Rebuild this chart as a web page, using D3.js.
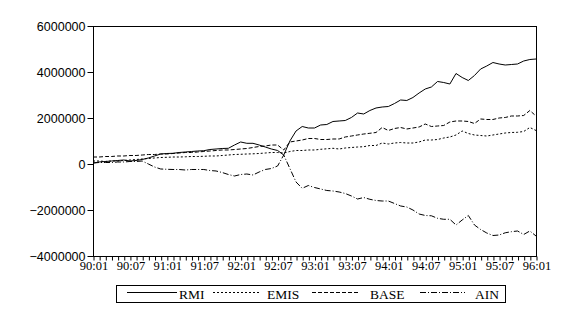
<!DOCTYPE html>
<html>
<head>
<meta charset="utf-8">
<script src="https://cdn.jsdelivr.net/npm/d3@7"></script>
<style>
  body { margin: 0; background: #fff; }
  svg { display: block; }
</style>
</head>
<body>
<div id="chart"></div>
<script>
// Monthly series 1990:01 - 1996:01 (73 months)
var rmi = [40, 87, 109, 130, 152, 174, 130, 152, 196, 261, 348, 435,
  457, 465, 500, 522, 543, 565, 578, 630, 652, 674, 683, 826,
  957, 900, 900, 826, 739, 652, 587, 391, 1000, 1435, 1630, 1565,
  1565, 1696, 1717, 1848, 1870, 1891, 2022, 2217, 2174, 2326, 2435, 2478,
  2500, 2630, 2783, 2761, 2891, 3087, 3261, 3348, 3587, 3543, 3478, 3935,
  3761, 3630, 3848, 4130, 4261, 4413, 4348, 4304, 4326, 4348, 4478, 4543,
  4565];
var emis = [130, 130, 109, 130, 130, 152, 174, 196, 217, 239, 261, 283,
  291, 304, 304, 313, 326, 326, 335, 348, 348, 370, 391, 413,
  422, 435, 443, 457, 478, 500, 500, 478, 543, 587, 587, 609,
  609, 639, 661, 683, 652, 696, 717, 739, 752, 804, 804, 913,
  870, 913, 935, 913, 913, 957, 1043, 1043, 1065, 1130, 1174, 1261,
  1435, 1326, 1261, 1239, 1217, 1261, 1304, 1348, 1370, 1378, 1413, 1587,
  1457];
var base = [304, 304, 326, 326, 348, 348, 370, 370, 391, 413, 413, 435,
  435, 457, 478, 500, 500, 522, 543, 565, 587, 609, 609, 630,
  652, 674, 717, 761, 783, 826, 826, 609, 957, 1000, 1043, 1109,
  1109, 1065, 1065, 1087, 1087, 1174, 1217, 1261, 1304, 1335, 1370, 1587,
  1457, 1543, 1587, 1522, 1565, 1609, 1739, 1630, 1652, 1674, 1826, 1870,
  1870, 1848, 1761, 1957, 1935, 1935, 2000, 2022, 2087, 2087, 2109, 2326,
  2087];
var ain = [43, 65, 65, 65, 87, 87, 109, 109, 130, 0, -130, -217,
  -230, -239, -239, -261, -239, -239, -239, -283, -304, -370, -457, -522,
  -457, -435, -478, -348, -239, -196, -87, 391, -196, -783, -1057, -935,
  -1022, -1087, -1152, -1174, -1217, -1283, -1391, -1522, -1457, -1535, -1587, -1609,
  -1609, -1717, -1826, -1870, -2000, -2174, -2239, -2252, -2361, -2404, -2404, -2652,
  -2435, -2239, -2652, -2848, -3000, -3109, -3087, -2991, -2943, -2913, -3065, -2913,
  -3130];

var xTickLabels = ["90:01", "90:07", "91:01", "91:07", "92:01", "92:07", "93:01",
  "93:07", "94:01", "94:07", "95:01", "95:07", "96:01"];
var yTicks = [-4000000, -2000000, 0, 2000000, 4000000, 6000000];

var seriesNames = ["RMI", "EMIS", "BASE", "AIN"];
var seriesData = [rmi, emis, base, ain];
var dashes = ["none", "2,2", "4,2", "6,2,1,2"];

var svgWidth = 580;
var svgHeight = 325;
var margin = {top: 26, right: 44, bottom: 69, left: 93};
var chartWidth = svgWidth - margin.left - margin.right;
var chartHeight = svgHeight - margin.top - margin.bottom;

var svg = d3.select("#chart").append("svg")
    .attr("width", svgWidth)
    .attr("height", svgHeight);

var chartGroup = svg.append("g")
    .attr("transform", `translate(${margin.left}, ${margin.top})`);

var xScale = d3.scaleLinear().domain([0, rmi.length - 1]).range([0, chartWidth]);
var yScale = d3.scaleLinear().domain([-4000000, 6000000]).range([chartHeight, 0]);

// frame
chartGroup.append("rect")
    .attr("x", 0.5).attr("y", 0.5)
    .attr("width", chartWidth).attr("height", chartHeight)
    .attr("fill", "none")
    .attr("stroke", "black");

// y axis
var yAxis = d3.axisLeft(yScale)
    .tickValues(yTicks)
    .tickSize(6)
    .tickPadding(2)
    .tickFormat(d3.format("d"));

chartGroup.append("g")
    .attr("transform", "translate(0.5,0)")
    .call(yAxis)
    .call(g => g.select(".domain").remove())
    .call(g => g.selectAll("text")
        .attr("font-family", "'Liberation Sans', Arial, sans-serif")
        .attr("font-size", "12.5px")
        .attr("fill", "black"));

// x axis: monthly minor ticks, labels every six months
var xAxis = d3.axisBottom(xScale)
    .tickValues(d3.range(0, rmi.length))
    .tickSize(4)
    .tickPadding(1)
    .tickFormat(d => d % 6 === 0 ? xTickLabels[d / 6] : "");

chartGroup.append("g")
    .attr("transform", `translate(0.5, ${chartHeight + 0.5})`)
    .call(xAxis)
    .call(g => g.select(".domain").remove())
    .call(g => g.selectAll("text")
        .attr("font-family", "'Liberation Serif', 'Times New Roman', serif")
        .attr("font-size", "12.5px")
        .attr("fill", "black"));

// series lines (values in thousands)
var line = d3.line()
    .x((d, i) => xScale(i))
    .y(d => yScale(d * 1000));

chartGroup.selectAll(".series")
    .data(seriesData)
    .enter()
    .append("path")
    .attr("class", "series")
    .attr("d", d => line(d))
    .attr("fill", "none")
    .attr("stroke", "black")
    .attr("stroke-width", 1)
    .attr("stroke-dasharray", (d, i) => dashes[i]);

// legend
var legend = svg.append("g");
legend.append("rect")
    .attr("x", 116.5).attr("y", 285.5)
    .attr("width", 389).attr("height", 17)
    .attr("fill", "none")
    .attr("stroke", "black");

var legendLineX = [127, 213, 312, 420];
var legendLineW = [50, 46, 46, 45];
var legendTextX = [179, 267, 370, 475];

legend.selectAll(".legline")
    .data(seriesNames)
    .enter()
    .append("line")
    .attr("x1", (d, i) => legendLineX[i])
    .attr("x2", (d, i) => legendLineX[i] + legendLineW[i])
    .attr("y1", 292.5).attr("y2", 292.5)
    .attr("stroke", "black")
    .attr("stroke-dasharray", (d, i) => dashes[i]);

legend.selectAll(".legtext")
    .data(seriesNames)
    .enter()
    .append("text")
    .attr("x", (d, i) => legendTextX[i])
    .attr("y", 298.5)
    .attr("font-family", "'Liberation Serif', 'Times New Roman', serif")
    .attr("font-size", "13.5px")
    .attr("fill", "black")
    .text(d => d);
</script>
</body>
</html>
